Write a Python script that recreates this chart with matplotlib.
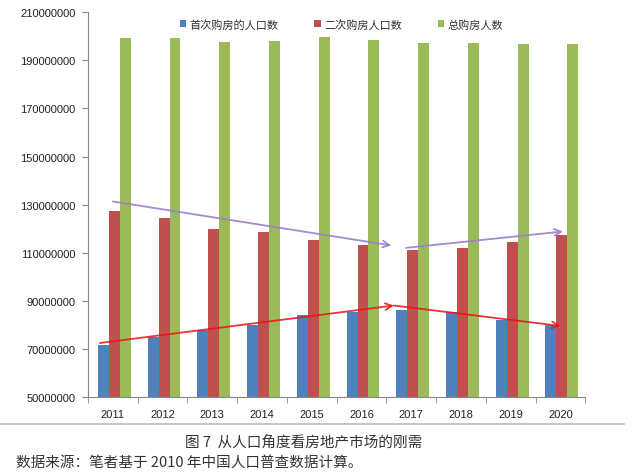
import numpy as np
import matplotlib.pyplot as plt

plt.rcParams['font.family'] = ['Noto Sans CJK SC', 'DejaVu Sans']

# Data (people)
years = ['2011', '2012', '2013', '2014', '2015', '2016', '2017', '2018', '2019', '2020']
first_buyers = [71.5e6, 75.1e6, 77.8e6, 80.0e6, 83.9e6, 85.5e6, 86.1e6, 85.5e6, 82.0e6, 80.0e6]
second_buyers = [127.2e6, 124.3e6, 119.9e6, 118.4e6, 115.3e6, 113.0e6, 111.2e6, 112.0e6, 114.3e6, 117.3e6]
total_buyers = [199.2e6, 199.2e6, 197.8e6, 198.2e6, 199.6e6, 198.5e6, 197.2e6, 197.3e6, 196.7e6, 196.9e6]
series_names = ['首次购房的人口数', '二次购房人口数', '总购房人数']
yticks = [50000000, 70000000, 90000000, 110000000, 130000000,
          150000000, 170000000, 190000000, 210000000]

# trend arrows: (start x, start y), (end x, end y) in category / value units
purple_arrows = [((0.0, 131.3e6), (5.6, 113.0e6)), ((5.9, 112.0e6), (9.05, 118.8e6))]
red_arrows = [((-0.26, 72.4e6), (5.65, 88.0e6)), ((5.65, 88.0e6), (9.0, 79.5e6))]

colors = ['#4F81BD', '#C0504D', '#9BBB59']

fig = plt.figure(figsize=(6.4, 4.77), dpi=100)
ax = fig.add_axes([0.1375, 0.166, 0.777, 0.806])

x = np.arange(len(years))
w = 0.22
for i, (vals, c, name) in enumerate(zip([first_buyers, second_buyers, total_buyers], colors, series_names)):
    ax.bar(x + (i - 1) * w + 0.03, vals, width=w, color=c, label=name, zorder=2)

for (x0, y0), (x1, y1) in purple_arrows:
    ax.annotate('', xy=(x1, y1), xytext=(x0, y0),
                arrowprops=dict(arrowstyle='->', color='#9A7FCC', lw=1.3, alpha=0.9,
                                mutation_scale=12, shrinkA=0, shrinkB=0), zorder=3)
for (x0, y0), (x1, y1) in red_arrows:
    ax.annotate('', xy=(x1, y1), xytext=(x0, y0),
                arrowprops=dict(arrowstyle='->', color='#F01010', lw=1.3, alpha=0.85,
                                mutation_scale=12, shrinkA=0, shrinkB=0), zorder=3)

ax.set_xlim(-0.5, len(years) - 0.5)
ax.set_ylim(50000000, 210000000)
ax.set_yticks(yticks)
ax.set_yticklabels([str(v) for v in yticks], fontsize=8, color='#222222', family='Liberation Sans')
ax.set_xticks(x)
ax.set_xticklabels(years, fontsize=8, color='#222222', family='Liberation Sans')
ax.set_xticks(np.arange(-0.5, len(years), 1.0), minor=True)
ax.tick_params(axis='x', which='major', length=0, pad=9)
ax.tick_params(axis='x', which='minor', length=4, color='#888888')
ax.tick_params(axis='y', length=4, color='#888888', pad=5)

for s in ['top', 'right']:
    ax.spines[s].set_visible(False)
ax.spines['left'].set_color('#888888')
ax.spines['bottom'].set_color('#888888')

ax.legend(loc='upper center', bbox_to_anchor=(0.51, 1.01), ncol=3, frameon=False,
          fontsize=8, handlelength=0.6, handleheight=0.6, handletextpad=0.3,
          columnspacing=3.2, labelcolor='#333333')

fig.add_artist(plt.Line2D([0.0, 0.975], [1 - 425 / 477, 1 - 425 / 477],
                          color='#bbbbbb', lw=1.2, transform=fig.transFigure))
fig.text(0.475, 1 - 443 / 477, '图 7  从人口角度看房地产市场的刚需', ha='center', va='center',
         fontsize=10.5, color='#333333')
fig.text(0.025, 1 - 464 / 477, '数据来源：笔者基于 2010 年中国人口普查数据计算。', ha='left', va='center',
         fontsize=10.5, color='#333333')

fig.savefig('out.png', dpi=100)
